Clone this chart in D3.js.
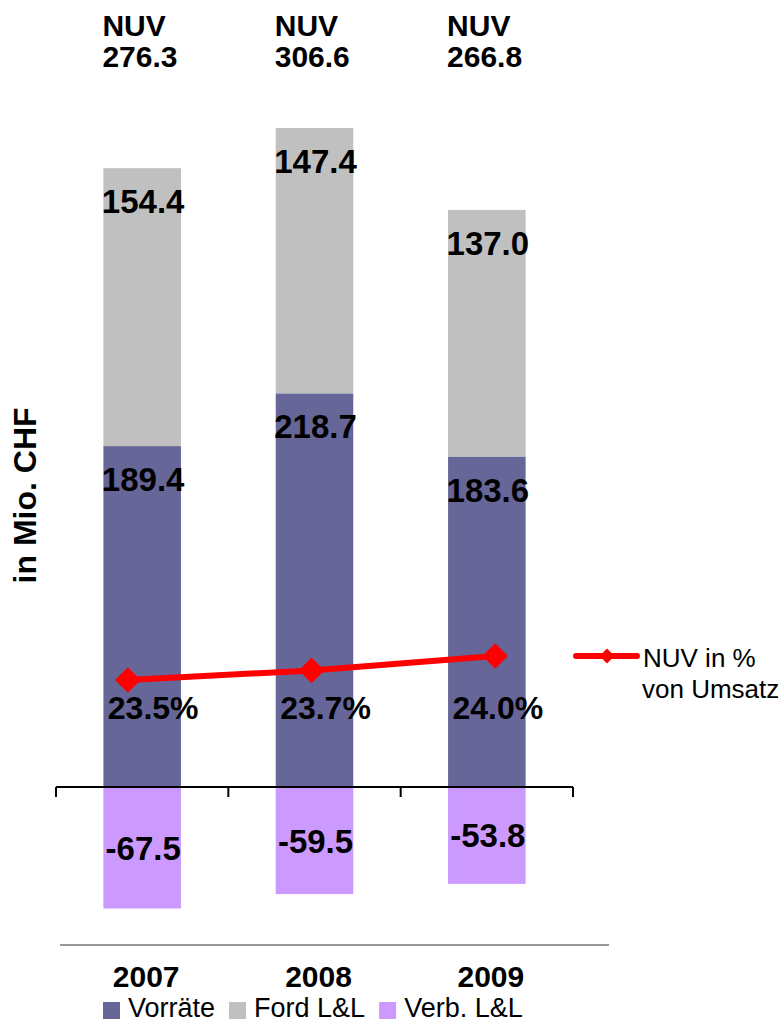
<!DOCTYPE html>
<html lang="de">
<head>
    <meta charset="UTF-8">
    <title>NUV</title>
    <style>
        body {
            margin: 0;
            background: #fff;
            font-family: "Liberation Sans", Arial, sans-serif;
        }
        svg text {
            font-family: "Liberation Sans", Arial, sans-serif;
        }
    </style>
</head>
<body>
    <div id="chart"></div>
    <script src="https://d3js.org/d3.v7.min.js"></script>
    <script>
        const years = ["2007", "2008", "2009"];
        const vorraete = [189.4, 218.7, 183.6];
        const fordLL = [154.4, 147.4, 137.0];
        const verbLL = [-67.5, -59.5, -53.8];
        const nuvTotal = [276.3, 306.6, 266.8];
        const nuvPct = [23.5, 23.7, 24.0];
        const legendLabels = ["Vorräte", "Ford L&L", "Verb. L&L"];
        const colors = ["#666699", "#C0C0C0", "#CC99FF"];

        const width = 782;
        const height = 1022;

        const svg = d3.select("#chart").append("svg")
            .attr("width", width)
            .attr("height", height);

        // primary scales
        const x = d3.scaleBand()
            .domain(years)
            .range([56, 573])
            .paddingInner(0.55)
            .paddingOuter(0.275);

        const y = d3.scaleLinear()
            .domain([-100, 350])
            .range([967, 157]);

        // secondary scales for the % line
        const xLine = d3.scaleBand()
            .domain(years)
            .range([36, 587]);

        const yPct = d3.scaleLinear()
            .domain([20, 25])
            .range([848, 608]);

        const rows = years.map((yr, i) => ({
            year: yr,
            v: vorraete[i],
            f: fordLL[i],
            n: verbLL[i],
            total: nuvTotal[i],
            pct: nuvPct[i]
        }));

        // bars
        const g = svg.append("g");
        rows.forEach(d => {
            const bx = x(d.year);
            const bw = x.bandwidth();
            g.append("rect")
                .attr("x", bx).attr("width", bw)
                .attr("y", y(d.v)).attr("height", y(0) - y(d.v))
                .attr("fill", colors[0]);
            g.append("rect")
                .attr("x", bx).attr("width", bw)
                .attr("y", y(d.v + d.f)).attr("height", y(d.v) - y(d.v + d.f))
                .attr("fill", colors[1]);
            g.append("rect")
                .attr("x", bx).attr("width", bw)
                .attr("y", y(0)).attr("height", y(d.n) - y(0))
                .attr("fill", colors[2]);
        });

        // zero axis with ticks at band edges
        const axisY = y(0);
        svg.append("line")
            .attr("x1", x.range()[0]).attr("x2", x.range()[1])
            .attr("y1", axisY).attr("y2", axisY)
            .attr("stroke", "#000").attr("stroke-width", 2);
        const edges = [x.range()[0]].concat(years.map(yr => x(yr) + x.bandwidth() + x.step() * x.paddingInner() / 2));
        edges[edges.length - 1] = x.range()[1];
        svg.selectAll(".tick")
            .data(edges)
            .enter().append("line")
            .attr("x1", d => d).attr("x2", d => d)
            .attr("y1", axisY).attr("y2", axisY + 10)
            .attr("stroke", "#000").attr("stroke-width", 2);

        // bottom separator
        svg.append("line")
            .attr("x1", 60).attr("x2", 609)
            .attr("y1", 945).attr("y2", 945)
            .attr("stroke", "#999").attr("stroke-width", 2);

        // value labels in bars
        const bigLabel = (tx, ty, txt) => svg.append("text")
            .attr("x", tx).attr("y", ty)
            .attr("text-anchor", "middle")
            .attr("font-size", 33)
            .attr("font-weight", "bold")
            .attr("fill", "#000")
            .text(txt);

        rows.forEach(d => {
            const cx = x(d.year) + x.bandwidth() / 2 + 1;
            bigLabel(cx, y(d.v + d.f) + 45, d.f.toFixed(1));
            bigLabel(cx, y(d.v) + 45, d.v.toFixed(1));
            bigLabel(cx, (y(0) + y(d.n)) / 2 + 12, d.n.toFixed(1));
        });

        // NUV totals on top
        rows.forEach(d => {
            const t = svg.append("text")
                .attr("font-size", 30)
                .attr("font-weight", "bold")
                .attr("fill", "#000");
            t.append("tspan").attr("x", x(d.year) - 1).attr("y", 36).text("NUV");
            t.append("tspan").attr("x", x(d.year) - 1).attr("y", 67).text(d.total.toFixed(1));
        });

        // % line
        const line = d3.line()
            .x(d => xLine(d.year) + xLine.bandwidth() / 2)
            .y(d => yPct(d.pct));

        svg.append("path")
            .datum(rows)
            .attr("d", line)
            .attr("fill", "none")
            .attr("stroke", "#FF0000")
            .attr("stroke-width", 6);

        const diamond = d3.symbol().type(d3.symbolDiamond2).size(420);
        svg.selectAll(".pt")
            .data(rows)
            .enter().append("path")
            .attr("transform", d => `translate(${xLine(d.year) + xLine.bandwidth() / 2},${yPct(d.pct)})`)
            .attr("d", diamond)
            .attr("fill", "#FF0000");

        rows.forEach(d => {
            bigLabel(x(d.year) + x.bandwidth() / 2 + 11, y(38), d.pct.toFixed(1) + "%")
                .attr("font-size", 32);
        });

        // y axis title
        svg.append("text")
            .attr("transform", `translate(36,${y(162)}) rotate(-90)`)
            .attr("text-anchor", "middle")
            .attr("font-size", 32)
            .attr("font-weight", "bold")
            .text("in Mio. CHF");

        // year labels
        rows.forEach(d => {
            svg.append("text")
                .attr("x", x(d.year) + x.bandwidth() / 2 + 4)
                .attr("y", 987)
                .attr("text-anchor", "middle")
                .attr("font-size", 30)
                .attr("font-weight", "bold")
                .text(d.year);
        });

        // legend for bars
        let lx = 103;
        legendLabels.forEach((lab, i) => {
            svg.append("rect")
                .attr("x", lx).attr("y", 1002)
                .attr("width", 17).attr("height", 17)
                .attr("fill", colors[i]);
            const t = svg.append("text")
                .attr("x", lx + 25).attr("y", 1017)
                .attr("font-size", 27)
                .attr("fill", "#000")
                .text(lab);
            lx += 25 + t.node().getComputedTextLength() + 14;
        });

        // legend for line
        svg.append("line")
            .attr("x1", 576).attr("x2", 637)
            .attr("y1", 656).attr("y2", 656)
            .attr("stroke", "#FF0000").attr("stroke-width", 6)
            .attr("stroke-linecap", "round");
        svg.append("path")
            .attr("transform", "translate(607,656)")
            .attr("d", d3.symbol().type(d3.symbolDiamond2).size(140))
            .attr("fill", "#FF0000");
        const lt = svg.append("text")
            .attr("font-size", 26)
            .attr("fill", "#000");
        lt.append("tspan").attr("x", 643).attr("y", 667).text("NUV in %");
        lt.append("tspan").attr("x", 642).attr("y", 698).text("von Umsatz");
    </script>
</body>
</html>
